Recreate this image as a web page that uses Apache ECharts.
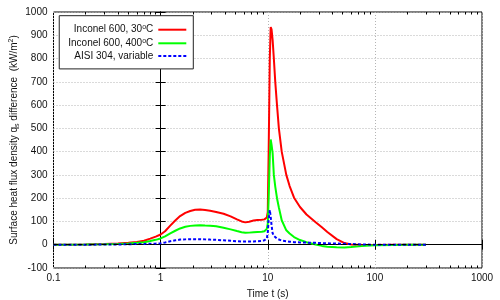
<!DOCTYPE html>
<html>
<head>
<meta charset="utf-8">
<script src="https://cdn.jsdelivr.net/npm/echarts@6/dist/echarts.min.js"></script>
<style>
html,body{margin:0;padding:0;background:#fff;}
#c{width:500px;height:300px;}
</style>
</head>
<body>
<div id="c"></div>
<script>
// Time values (s)
var times = [0.1, 0.2, 0.3, 0.4, 0.5, 0.6, 0.7, 0.8, 0.9, 1.0,
             1.1, 1.23, 1.37, 1.52, 1.7, 1.89, 2.1, 2.34, 2.6, 2.9,
             3.3, 3.87, 4.5, 5.16, 5.7, 6.18, 6.7, 7.37, 8.0, 8.8,
             9.3, 9.8, 10.0, 10.2, 10.45, 10.65, 10.85, 11.1, 11.4, 11.75,
             12.2, 12.7, 13.5, 14.9, 16, 17.6, 20, 23, 28, 32,
             36, 44, 52, 60, 75, 100, 150, 200, 300];
// Inconel 600, 30 C
var inconel30 = [0, 1, 3, 5, 8, 12, 17, 26, 35, 44,
                 58, 82, 104, 123, 137, 145, 150, 151, 149, 146,
                 141, 133, 122, 109, 100, 96, 99, 104, 106, 107,
                 109, 117, 140, 400, 800, 935, 925, 880, 800, 700,
                 600, 500, 400, 300, 252, 202, 162, 130, 97, 75,
                 55, 24, 7, 1, 0, -1, 0, 0, 0];
// Inconel 600, 400 C
var inconel400 = [0, 1, 2, 3, 5, 8, 11, 16, 21, 27,
                  36, 49, 60, 70, 77, 81, 83, 84, 83, 82,
                  79, 73, 66, 59, 54, 51, 52, 54, 55, 56,
                  58, 68, 90, 200, 380, 452, 430, 395, 300, 250,
                  200, 160, 105, 62, 48, 33, 20, 11, 1, -5,
                  -9, -11, -12, -10, -6, -2, -1, 0, 0];
// AISI 304, variable
var aisi304 = [0, 0, 1, 1, 2, 3, 3, 4, 5, 6,
               10, 15, 19, 22, 23, 24, 24, 24, 23, 22,
               21, 19, 17, 15, 14, 14, 14, 14, 15, 16,
               19, 27, 50, 110, 149, 120, 85, 50, 38, 31,
               26, 22, 18, 15, 13, 11, 10, 9, 8, 7,
               6, 5, 4, 3, 1, 0, 0, 0, 0];

var seriesNames = ['Inconel 600, 30\u00B0C', 'Inconel 600, 400\u00B0C', 'AISI 304, variable'];
var legendRich = {
  'Inconel 600, 30\u00B0C': '{n|Inconel 600, 30}{s|o}{n|C}',
  'Inconel 600, 400\u00B0C': '{n|Inconel 600, 400}{s|o}{n|C}',
  'AISI 304, variable': '{n|AISI 304, variable}'
};
var yTitle = '{n|Surface heat flux density q}{sub|s}{n| difference  (kW/m}{sup|2}{n|)}';
var xTitle = 'Time t (s)';

var minorTicks = [];
[-1, 0, 1, 2].forEach(function (e) {
  for (var k = 2; k <= 9; k++) minorTicks.push(Math.log10(k * Math.pow(10, e)));
});

function pairs(vals) { return times.map(function (t, i) { return [t, vals[i]]; }); }
function plain(v) { return String(v); }

var FONT = '"Liberation Sans", Arial, Helvetica, sans-serif';
var gridLine = { show: true, lineStyle: { color: '#b4b4b4', type: [1, 2], width: 1 } };

var chart = echarts.init(document.getElementById('c'), null, { renderer: 'canvas' });
chart.setOption({
  animation: false,
  backgroundColor: '#fff',
  grid: { left: 53.5, right: 18, top: 12, bottom: 32, containLabel: false, outerBoundsMode: 'none',
          show: true, borderColor: '#000', borderWidth: 1, backgroundColor: 'transparent' },
  legend: {
    orient: 'vertical', align: 'right', right: 306.7, top: 15.7,
    padding: [8, 6, 8, 9], itemGap: 2.6, itemWidth: 28, itemHeight: 12,
    borderColor: '#222', borderWidth: 1, backgroundColor: '#fff',
    data: seriesNames,
    itemStyle: { opacity: 0, borderWidth: 0 },
    formatter: function (name) { return legendRich[name]; },
    textStyle: {
      color: '#111', fontFamily: FONT, fontSize: 10,
      rich: {
        n: { fontSize: 10, lineHeight: 12, fontFamily: FONT, color: '#111' },
        s: { fontSize: 7, lineHeight: 7, verticalAlign: 'top', fontFamily: FONT, color: '#111' }
      }
    }
  },
  xAxis: [
    {
      type: 'log', logBase: 10, min: 0.1, max: 1000, position: 'bottom',
      axisLine: { show: true, lineStyle: { color: '#000', width: 1 } },
      axisTick: { show: true, inside: true, length: 5, lineStyle: { color: '#000' } },
      axisLabel: { margin: 5, fontSize: 10, fontFamily: FONT, color: '#111', formatter: plain },
      splitLine: gridLine, minorTick: { show: false }, minorSplitLine: { show: false },
      name: xTitle, nameLocation: 'middle', nameGap: 21, nameMoveOverlap: false,
      nameTextStyle: { fontSize: 10, fontFamily: FONT, color: '#111' }
    },
    {
      type: 'log', logBase: 10, min: 0.1, max: 1000, position: 'top',
      axisLine: { show: true, lineStyle: { color: '#000', width: 1 } },
      axisTick: { show: true, inside: true, length: 5, lineStyle: { color: '#000' } },
      axisLabel: { show: false }, splitLine: { show: false }
    },
    {
      type: 'value', min: -1, max: 3, position: 'bottom',
      axisLine: { show: false }, axisLabel: { show: false }, splitLine: { show: false },
      axisTick: { show: true, inside: true, length: 2.5, customValues: minorTicks, lineStyle: { color: '#000' } }
    },
    {
      type: 'value', min: -1, max: 3, position: 'top',
      axisLine: { show: false }, axisLabel: { show: false }, splitLine: { show: false },
      axisTick: { show: true, inside: true, length: 2.5, customValues: minorTicks, lineStyle: { color: '#000' } }
    }
  ],
  yAxis: [
    {
      type: 'value', min: -100, max: 1000, interval: 100, position: 'left',
      axisLine: { show: true, lineStyle: { color: '#000', width: 1 } },
      axisTick: { show: true, inside: true, length: 5, lineStyle: { color: '#000' } },
      axisLabel: { margin: 6, fontSize: 10, fontFamily: FONT, color: '#111', formatter: plain },
      splitLine: gridLine,
      name: yTitle, nameLocation: 'middle', nameGap: 33, nameRotate: 90, nameMoveOverlap: false,
      nameTextStyle: {
        fontSize: 10, fontFamily: FONT, color: '#111',
        rich: {
          n: { fontSize: 10, lineHeight: 13, fontFamily: FONT, color: '#111' },
          sub: { fontSize: 7, lineHeight: 7, verticalAlign: 'bottom', fontFamily: FONT, color: '#111' },
          sup: { fontSize: 7, lineHeight: 7, verticalAlign: 'top', fontFamily: FONT, color: '#111' }
        }
      }
    },
    {
      type: 'value', min: -100, max: 1000, interval: 100, position: 'right',
      axisLine: { show: true, lineStyle: { color: '#000', width: 1 } },
      axisTick: { show: true, inside: true, length: 5, lineStyle: { color: '#000' } },
      axisLabel: { show: false }, splitLine: { show: false }
    }
  ],
  series: [
    {
      name: seriesNames[0], type: 'line', xAxisIndex: 0, yAxisIndex: 0,
      data: pairs(inconel30), symbol: 'none', showSymbol: false, smooth: false,
      lineStyle: { color: '#ff0000', width: 2 }, itemStyle: { color: '#ff0000' },
      markLine: {
        silent: true, symbol: 'none', label: { show: false },
        lineStyle: { color: '#000', width: 1, type: [5, 3, 1, 3] },
        data: [{ yAxis: 0 }]
      }
    },
    {
      name: seriesNames[1], type: 'line', xAxisIndex: 0, yAxisIndex: 0,
      data: pairs(inconel400), symbol: 'none', showSymbol: false, smooth: false,
      lineStyle: { color: '#00ff00', width: 2 }, itemStyle: { color: '#00ff00' }
    },
    {
      name: seriesNames[2], type: 'line', xAxisIndex: 0, yAxisIndex: 0,
      data: pairs(aisi304), symbol: 'none', showSymbol: false, smooth: false,
      lineStyle: { color: '#0000ff', width: 2, type: [3, 2] }, itemStyle: { color: '#0000ff' }
    }
  ]
});
</script>
</body>
</html>
